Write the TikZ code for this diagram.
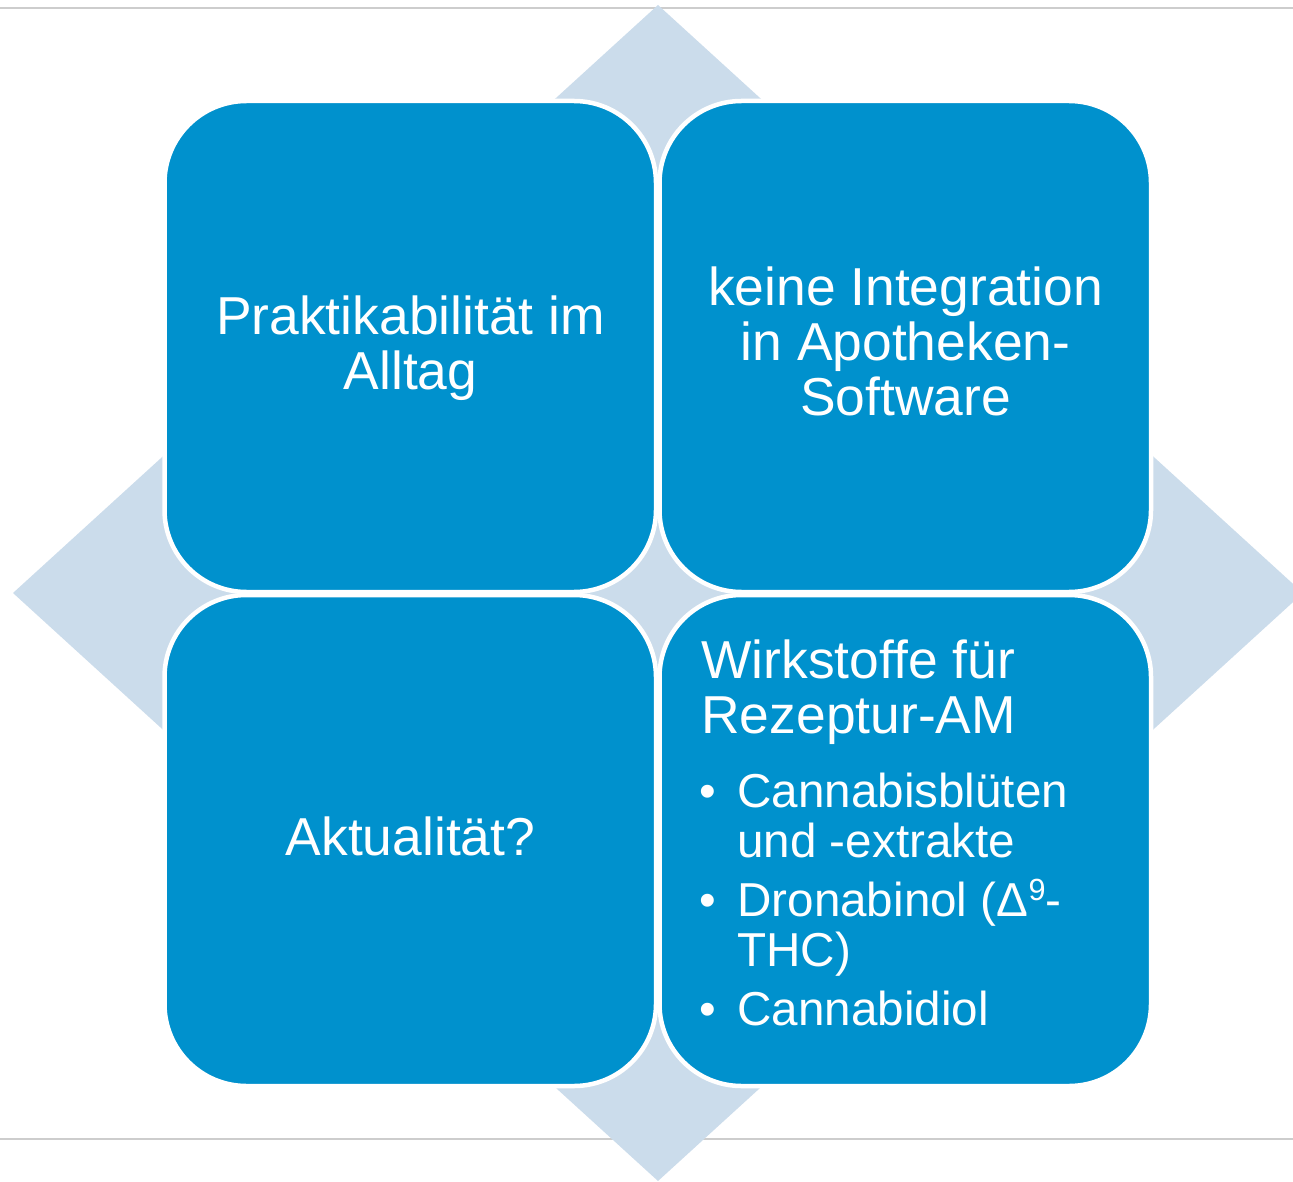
\documentclass[tikz,border=0pt]{standalone}
\usepackage{fontspec}
\setmainfont{Liberation Sans}
\definecolor{tileblue}{RGB}{0,145,205}
\definecolor{diamondblue}{RGB}{203,220,235}
\definecolor{rulegray}{RGB}{205,205,205}
\begin{document}
\begin{tikzpicture}[x=0.5pt,y=-0.5pt,
  tile/.style={draw=white, line width=2.25pt, fill=tileblue, rounded corners=41pt,
    minimum width=245.75pt, minimum height=245.5pt, inner sep=0pt},
  tiletext/.style={text=white, inner sep=0pt, font=\fontsize{26.7}{27.5}\selectfont},
  listtext/.style={text=white, inner sep=0pt, font=\fontsize{23.8}{25}\selectfont},
  rule/.style={draw=rulegray, line width=1.25pt}]
\useasboundingbox (0,0) rectangle (1293,1181);
% thin rules at top and bottom
\draw[rule] (0,8) -- (1293,8);
\draw[rule] (0,1139) -- (1293,1139);
% background diamond
\fill[diamondblue] (658,5) -- (1303,593) -- (658,1181) -- (13,593) -- cycle;
% the four tiles
\node[tile] (tl) at (410.25,346.5) {};
\node[tile] (tr) at (905.25,346.5) {};
\node[tile] (bl) at (410.25,840.5) {};
\node[tile] (br) at (905.25,840.5) {};
% tile texts (base anchor sits on the last line)
\node[tiletext, align=center, anchor=base] (tltext) at (410.5,389.5)
  {Praktikabilität im\\Alltag};
\node[tiletext, align=center, anchor=base] (trtext) at (905.5,415.5)
  {keine Integration\\in Apotheken-\\Software};
\node[tiletext, anchor=base] (bltext) at (410.5,855.5) {Aktualität?};
\node[tiletext, align=left, anchor=base west] (brhead) at (701,733)
  {Wirkstoffe für\\Rezeptur-AM};
\node[listtext, anchor=base west] (brlist) at (699.5,807)
  {\begin{tabular}[t]{@{}l@{}l@{}}
   \makebox[18.75pt][l]{•} & Cannabisblüten\\
   & und -extrakte\\[4.5pt]
   \makebox[18.75pt][l]{•} & Dronabinol (Δ\smash{\raisebox{0.32em}{\fontsize{15.3}{15.3}\selectfont 9}}-\\
   & THC)\\[4.5pt]
   \makebox[18.75pt][l]{•} & Cannabidiol
   \end{tabular}};
\end{tikzpicture}
\end{document}
